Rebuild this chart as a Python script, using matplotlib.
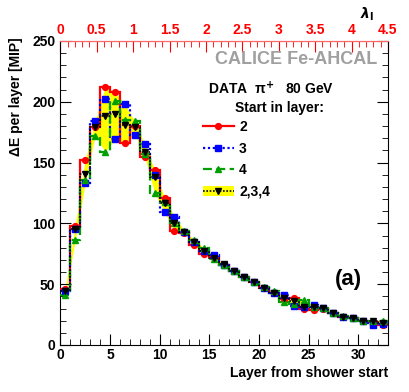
import numpy as np
import matplotlib
matplotlib.use("Agg")
import matplotlib.pyplot as plt
from matplotlib.lines import Line2D
from matplotlib.patches import Patch

plt.rcParams['font.family'] = ['Liberation Sans', 'DejaVu Sans']
plt.rcParams['font.weight'] = 'bold'

layers = np.arange(0, 34)  # bin edges
red = [46, 98, 152, 179, 212, 208, 166, 180, 155, 144, 121, 94, 92, 82, 75, 72, 66, 61, 56, 51.5, 46.5, 43, 38, 38.4, 29.3, 28.8, 30, 26, 23, 22, 20, 19, 16.7]
blue = [44, 95, 133, 184, 202, 169, 198, 173, 165, 140, 109, 105.5, 93, 85, 77, 74, 66, 61, 56, 51.5, 46.5, 43, 41, 32.3, 31, 33, 30.5, 26, 23, 22, 20, 16.7, 17.5]
green = [41, 86, 136, 172, 159, 201, 185, 184, 157, 125, 118, 100, 94, 86, 79.5, 70.5, 66, 61, 56, 51.5, 48, 44, 35, 34, 37, 31, 30.5, 26, 23.5, 22, 19.5, 19.4, 19.4]
black = [44, 95, 141, 179, 188, 190, 181, 179.5, 159, 138, 116.5, 100.6, 93, 85, 77.3, 71.3, 66.3, 61, 56.2, 51.6, 46.6, 43, 38.4, 35.8, 31.5, 31, 30.7, 26.2, 23.3, 22, 20, 19.4, 18]

edges = layers.astype(float)
centers = edges[:-1] + 0.5

W, H = 409, 392
fig = plt.figure(figsize=(W / 100, H / 100), dpi=100)
ax = fig.add_axes([60.3 / W, 1 - 345 / H, (388 - 60.3) / W, (345 - 41) / H])

lo = np.minimum(np.minimum(red, blue), green)
hi = np.maximum(np.maximum(red, blue), green)
ax.fill_between(centers, lo, hi, color='#ffff00', lw=0, zorder=1)

ms = 4.2
ax.stairs(red, edges, baseline=None, color='#ff0000', lw=1.6, zorder=3)
ax.plot(centers, red, 'o', color='#ff0000', ms=ms, zorder=4)
ax.stairs(blue, edges, baseline=None, color='#0000ff', lw=1.6, ls=(0, (1, 1.2)), zorder=3)
ax.plot(centers, blue, 's', color='#0000ff', ms=ms, zorder=4)
ax.stairs(green, edges, baseline=None, color='#00a000', lw=1.6, ls=(0, (4, 2)), zorder=3)
ax.plot(centers, green, '^', color='#00a000', ms=ms, zorder=4)
ax.stairs(black, edges, baseline=None, color='black', lw=1.2, ls=(0, (1, 1)), zorder=5)
ax.plot(centers, black, 'v', color='black', ms=ms, zorder=6)

ax.set_xlim(0, 33)
ax.set_ylim(0, 250)
ax.set_xticks([0, 5, 10, 15, 20, 25, 30])
ax.set_xticks(np.arange(0, 34, 1), minor=True)
ax.set_yticks([0, 50, 100, 150, 200, 250])
ax.set_yticks(np.arange(0, 251, 10), minor=True)
ax.tick_params(axis='both', which='both', direction='in', labelsize=10)
ax.tick_params(axis='y', which='both', right=True)
ax.tick_params(axis='x', which='both', top=False)
ax.tick_params(which='major', length=8, width=0.8)
ax.tick_params(which='minor', length=4, width=0.6)
ax.tick_params(axis='x', which='major', pad=2)
for lab in ax.get_xticklabels() + ax.get_yticklabels():
    lab.set_fontweight('bold')
ax.spines['top'].set_color('#ff6666')

ax.set_ylabel('ΔE per layer [MIP]', fontsize=10, fontweight='bold')
ax.yaxis.set_label_coords(-0.114, 0.816)
ax.set_xlabel('Layer from shower start', fontsize=10, fontweight='bold', loc='right', labelpad=3)

sec = ax.secondary_xaxis('top', functions=(lambda x: x * 4.5 / 33, lambda l: l * 33 / 4.5))
sec.set_xticks(np.arange(0, 4.51, 0.5))
sec.set_xticklabels(['0', '0.5', '1', '1.5', '2', '2.5', '3', '3.5', '4', '4.5'])
sec.set_xticks(np.arange(0, 4.51, 0.1), minor=True)
sec.tick_params(which='both', direction='in', colors='#ff0000', labelsize=10, pad=3)
sec.tick_params(which='major', length=8, width=0.8)
sec.tick_params(which='minor', length=4, width=0.6)
sec.spines['top'].set_color('#ff6666')
for lab in sec.get_xticklabels():
    lab.set_fontweight('bold')
    lab.set_color('#ff0000')

fig.text(367 / W, 1 - 14 / H, r'$\lambda_{\mathrm{I}}$', fontsize=10, ha='center', va='center')
fig.text(377 / W, 1 - 59 / H, 'CALICE Fe-AHCAL', fontsize=13, color='#a0a0a0', fontweight='bold', ha='right', va='center')
fig.text(208 / W, 1 - 89 / H, 'DATA  π$^{+}$   80 GeV', fontsize=10, fontweight='bold', ha='left', va='center')
fig.text(235 / W, 1 - 108 / H, 'Start in layer:', fontsize=10, fontweight='bold', ha='left', va='center')
fig.text(348 / W, 1 - 279 / H, '(a)', fontsize=16, fontweight='bold', ha='center', va='center')

handles = [
    Line2D([], [], color='#ff0000', lw=1.6, marker='o', ms=ms),
    Line2D([], [], color='#0000ff', lw=1.6, ls=(0, (1, 1.2)), marker='s', ms=ms),
    Line2D([], [], color='#00a000', lw=1.6, ls=(0, (4, 2)), marker='^', ms=ms),
    (Patch(facecolor='#ffff00', edgecolor='none'), Line2D([], [], color='black', lw=1.2, ls=(0, (1, 1)), marker='v', ms=ms)),
]
labels = ['2', '3', '4', '2,3,4']
leg = ax.legend(handles, labels, loc='upper left', bbox_to_anchor=(203 / W, 1 - 120 / H), bbox_transform=fig.transFigure,
                frameon=False, fontsize=10, handlelength=2.2, handletextpad=0.4, labelspacing=0.55, borderpad=0, borderaxespad=0)
for t in leg.get_texts():
    t.set_fontweight('bold')

fig.savefig('out.png', dpi=100)
